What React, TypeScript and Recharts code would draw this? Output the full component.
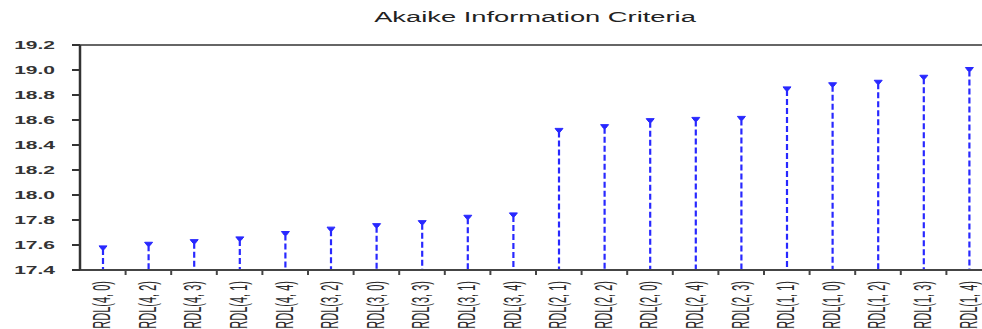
import React from 'react';
import { BarChart, Bar, XAxis, YAxis, ReferenceLine } from 'recharts';

const models = [
  'ARDL(4, 0)', 'ARDL(4, 2)', 'ARDL(4, 3)', 'ARDL(4, 1)', 'ARDL(4, 4)',
  'ARDL(3, 2)', 'ARDL(3, 0)', 'ARDL(3, 3)', 'ARDL(3, 1)', 'ARDL(3, 4)',
  'ARDL(2, 1)', 'ARDL(2, 2)', 'ARDL(2, 0)', 'ARDL(2, 4)', 'ARDL(2, 3)',
  'ARDL(1, 1)', 'ARDL(1, 0)', 'ARDL(1, 2)', 'ARDL(1, 3)', 'ARDL(1, 4)',
];
const aicValues = [
  17.585, 17.614, 17.635, 17.657, 17.700,
  17.735, 17.763, 17.787, 17.830, 17.849,
  18.525, 18.555, 18.603, 18.613, 18.621,
  18.857, 18.890, 18.910, 18.950, 19.012,
];
const yTicks = [17.4, 17.6, 17.8, 18.0, 18.2, 18.4, 18.6, 18.8, 19.0, 19.2];

const data = models.map((name, i) => ({ name, aic: aicValues[i] }));

const CHART_W = 992;
const CHART_H = 329;
const AXIS_W = 80;
const BAND = (CHART_W - AXIS_W) / models.length;
const STEM = '#2828ff';

const Stem = (props: any) => {
  const { x, y, width, height } = props;
  const cx = x + width / 2;
  return (
    <g>
      <line x1={cx} y1={y + 2} x2={cx} y2={y + height} stroke={STEM} strokeWidth={2.2} strokeDasharray="6 3" />
      <path d={`M${cx - 4},${y - 1} L${cx + 4},${y - 1} L${cx + 1.2},${y + 2.5} L${cx - 1.2},${y + 2.5} Z`} fill={STEM} stroke={STEM} strokeWidth={1} />
    </g>
  );
};

const XTick = (props: any) => {
  const { x, y, payload } = props;
  return (
    <g>
      <line x1={x + BAND / 2} y1={y} x2={x + BAND / 2} y2={y + 5} stroke="#444" strokeWidth={2} />
      <text
        transform={`translate(${x - 1}, ${y + 11}) scale(2.2, 1) rotate(-90)`}
        textAnchor="end"
        dy="0.35em"
        fontSize={11}
        fontFamily="'Liberation Sans', Arial, sans-serif"
        fill="#2a2a2a"
      >
        {payload.value}
      </text>
    </g>
  );
};

const YTick = (props: any) => {
  const { y, payload } = props;
  return (
    <text
      transform={`translate(55, ${y}) scale(2.1, 1)`}
      textAnchor="end"
      dy="0.35em"
      fontSize={10}
      fontWeight="bold"
      fontFamily="'Liberation Sans', Arial, sans-serif"
      fill="#333"
    >
      {payload.value.toFixed(1)}
    </text>
  );
};

export default function App() {
  return (
    <div style={{ position: 'fixed', left: 0, top: 0, width: 982, height: 329, overflow: 'hidden', background: '#fff' }}>
      <div
        style={{
          position: 'absolute',
          left: 335,
          width: 400,
          top: 9,
          textAlign: 'center',
          fontFamily: "'Liberation Sans', Arial, sans-serif",
          fontSize: 14,
          color: '#222',
          transform: 'scaleX(1.95)',
          transformOrigin: 'center',
          whiteSpace: 'nowrap',
        }}
      >
        Akaike Information Criteria
      </div>
      <BarChart
        width={CHART_W}
        height={CHART_H}
        data={data}
        margin={{ top: 45, right: 0, bottom: 0, left: 0 }}
        barCategoryGap={0}
      >
        <XAxis
          dataKey="name"
          interval={0}
          height={59}
          tickSize={0}
          tickMargin={0}
          tickLine={false}
          axisLine={{ stroke: '#444', strokeWidth: 2 }}
          tick={<XTick />}
        />
        <YAxis
          type="number"
          domain={[17.4, 19.2]}
          ticks={yTicks}
          width={AXIS_W}
          tickSize={8}
          tickLine={{ stroke: '#333', strokeWidth: 2 }}
          axisLine={{ stroke: '#333', strokeWidth: 2.5 }}
          tick={<YTick />}
          allowDataOverflow
        />
        <ReferenceLine y={19.2} stroke="#333" strokeWidth={1.5} />
        <Bar dataKey="aic" shape={<Stem />} isAnimationActive={false} />
      </BarChart>
    </div>
  );
}
